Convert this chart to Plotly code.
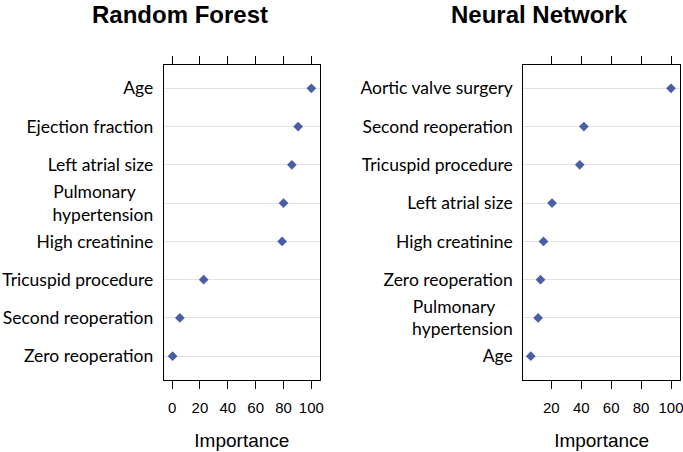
import plotly.graph_objects as go

NB = "\u00a0"
rf_features = ["Age", "Ejection fraction", "Left atrial size",
               "Pulmonary" + NB * 4 + "<br>hypertension", "High creatinine",
               "Tricuspid procedure", "Second reoperation", "Zero reoperation"]
rf_importance = [100, 90.5, 86, 80, 79, 22.7, 5.6, 0.4]

nn_features = ["Aortic valve surgery", "Second reoperation", "Tricuspid procedure",
               "Left atrial size", "High creatinine", "Zero reoperation",
               "Pulmonary" + NB * 4 + "<br>hypertension", "Age"]
nn_importance = [100, 41.8, 39, 20.5, 14.8, 12.8, 11.2, 6.3]

x_ticks = [0, 20, 40, 60, 80, 100]
panel_titles = ["Random Forest", "Neural Network"]

W, H = 683, 452
marker_color = "#4a5ea8"

fig = go.Figure()
fig.add_trace(go.Scatter(x=rf_importance, y=rf_features, mode="markers",
                         marker=dict(symbol="diamond", size=7.5, color=marker_color),
                         xaxis="x", yaxis="y", showlegend=False, cliponaxis=False))
fig.add_trace(go.Scatter(x=nn_importance, y=nn_features, mode="markers",
                         marker=dict(symbol="diamond", size=7.5, color=marker_color),
                         xaxis="x2", yaxis="y2", showlegend=False, cliponaxis=False))

top_px, bot_px = 65, 379.5
ydom = [1 - bot_px / H, 1 - top_px / H]

xcommon = dict(showline=True, linecolor="black", linewidth=1, mirror="ticks",
               ticks="outside", ticklen=8, tickcolor="black", tickwidth=1,
               tickvals=x_ticks, showgrid=False, zeroline=False, automargin=False,
               ticklabeloverflow="allow",
               tickfont=dict(family="Liberation Sans, Arial", size=15, color="black"),
               ticklabelstandoff=6,
               title=dict(text="Importance", standoff=19,
                          font=dict(family="Liberation Sans, Arial", size=19, color="black")))
ycommon = dict(showline=True, linecolor="black", linewidth=1, mirror=True,
               ticks="", showgrid=True, gridcolor="#e3e3e3", gridwidth=1,
               zeroline=False, type="category", range=[7.61, -0.61], automargin=False,
               tickfont=dict(family="Lato, Noto Sans", size=17.5, color="black"),
               ticklabelstandoff=6)

fig.update_layout(
    width=W, height=H,
    margin=dict(l=0, r=0, t=0, b=0, autoexpand=False),
    paper_bgcolor="white", plot_bgcolor="white",
    xaxis=dict(domain=[163.7 / W, 320 / W], range=[-6, 106.2], anchor="y", **xcommon),
    yaxis=dict(domain=ydom, anchor="x", categoryorder="array",
               categoryarray=rf_features, **ycommon),
    xaxis2=dict(domain=[523.3 / W, 680 / W], range=[1.3, 106], anchor="y2", **xcommon),
    yaxis2=dict(domain=ydom, anchor="x2", categoryorder="array",
                categoryarray=nn_features, **ycommon),
    annotations=[
        dict(text=panel_titles[0], x=180 / W, y=1, xref="paper", yref="paper",
             xanchor="center", yanchor="top", yshift=1, showarrow=False,
             font=dict(family="Liberation Sans, Arial", size=24, color="black", weight="bold")),
        dict(text=panel_titles[1], x=539 / W, y=1, xref="paper", yref="paper",
             xanchor="center", yanchor="top", yshift=1, showarrow=False,
             font=dict(family="Liberation Sans, Arial", size=24, color="black", weight="bold")),
    ],
)

fig.write_html("out.html", config={"displayModeBar": False},
               post_script="document.body.style.margin='0';")
